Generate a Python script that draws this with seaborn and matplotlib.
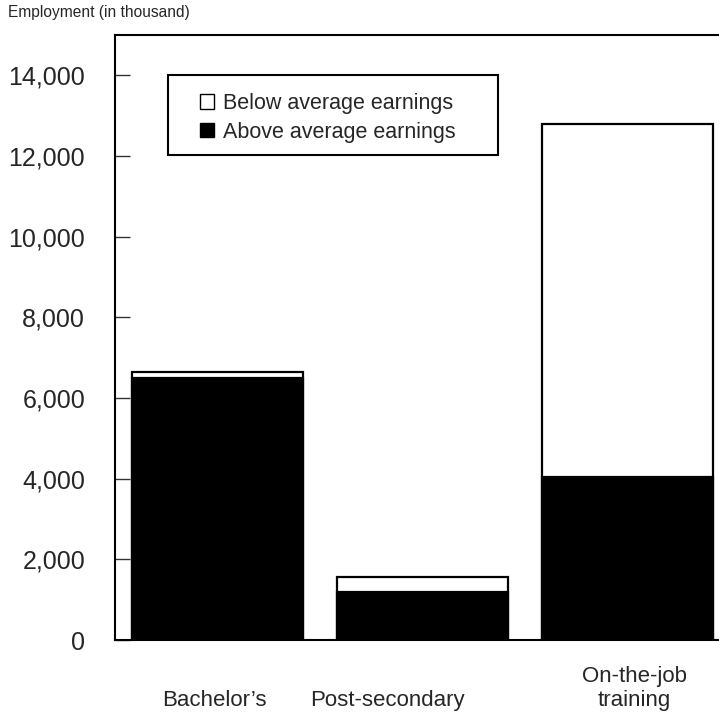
import pandas as pd
import matplotlib.pyplot as plt
import matplotlib.transforms as mtransforms
import seaborn as sns
from matplotlib.patches import Patch, Rectangle

# employment by education/training category (thousands)
categories = ["Bachelor\u2019s", "Post-secondary", "On-the-job\ntraining"]
above_avg = [6500, 1200, 4030]
below_avg = [150, 350, 8770]

sns.set_style("ticks")
plt.rcParams['font.family'] = ['Liberation Sans', 'DejaVu Sans']

df = pd.DataFrame({"Category": categories, "Above": above_avg, "Below": below_avg})
df["Total"] = df["Above"] + df["Below"]

fig = plt.figure(figsize=(7.19, 7.28), dpi=100)
ax = fig.add_axes([115/719, 1-640/728, 1-115/719, (640-35)/728])

# white part drawn as full total, black part on top of it
sns.barplot(data=df, x="Category", y="Total", color="white", edgecolor="black",
            linewidth=1.6, width=0.834, saturation=1, ax=ax)
sns.barplot(data=df, x="Category", y="Above", color="black", edgecolor="black",
            linewidth=1.6, width=0.834, saturation=1, ax=ax)

ax.set_xlim(-0.5, 2.447)
ax.set_ylim(0, 15000)
ax.set_yticks(range(0, 15000, 2000))
ax.set_yticklabels([f"{v:,}" for v in range(0, 15000, 2000)])
ax.set_xlabel("")
ax.set_ylabel("")

for s in ["left", "top", "bottom"]:
    ax.spines[s].set_visible(True)
    ax.spines[s].set_linewidth(1.5)
    ax.spines[s].set_color("black")
ax.spines["right"].set_visible(False)

ax.tick_params(axis="y", direction="in", length=11, width=1, color="#333333",
               labelsize=18, pad=21.5)
ax.tick_params(axis="x", length=0, labelsize=16, pad=51)
# labels in the original are not exactly centred under the bars
shifts = [-3, -35, 7]
for lab, dx in zip(ax.get_xticklabels(), shifts):
    lab.set_va("bottom")
    lab.set_multialignment("center")
    lab.set_transform(lab.get_transform() +
                      mtransforms.ScaledTranslation(dx/100, 0, fig.dpi_scale_trans))

fig.text(8/719, 1-12/728, "Employment (in thousand)", fontsize=11.2,
         ha="left", va="center")

# legend
handles = [Patch(facecolor="white", edgecolor="black", linewidth=1),
           Patch(facecolor="black", edgecolor="black", linewidth=1)]
ax.legend(handles, ["Below average earnings", "Above average earnings"],
          loc="center left", bbox_to_anchor=(0.141, 0.863), frameon=False,
          fontsize=15.5, handlelength=0.65, handleheight=0.65,
          handletextpad=0.4, labelspacing=0.35, borderpad=0, borderaxespad=0)
ax.add_patch(Rectangle((0.0877, 0.8017), 0.634-0.0877, 0.934-0.8017,
                       transform=ax.transAxes, fill=False, edgecolor="black",
                       linewidth=1.5, zorder=5))

plt.savefig("out.png", dpi=100)
